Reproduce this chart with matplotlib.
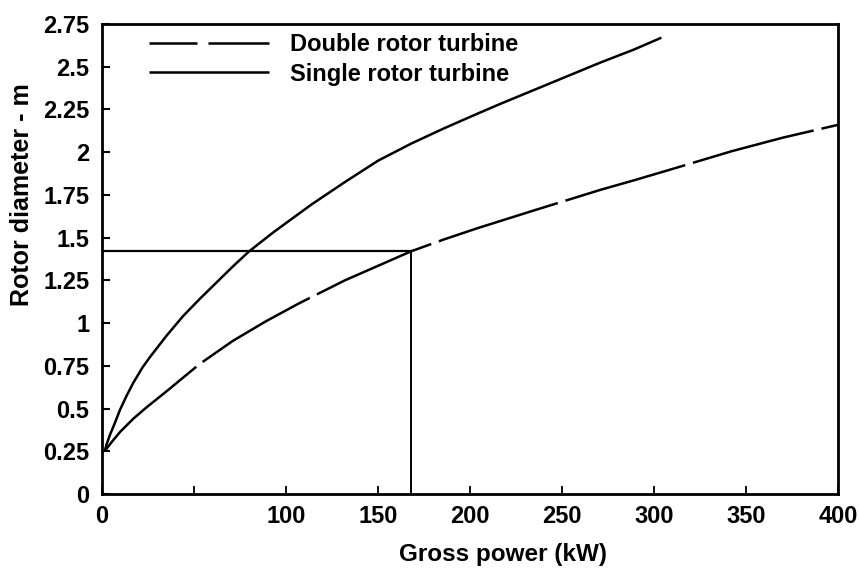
"""
Rotor diameter vs gross power, single and double rotor turbines
"""

import matplotlib
matplotlib.use("Agg")
import matplotlib.pyplot as plt
from matplotlib.lines import Line2D

plt.rcParams["font.family"] = ["Liberation Sans", "DejaVu Sans"]
plt.rcParams["font.weight"] = "bold"

# -----------------------------------------------------------------------------
# Data
# -----------------------------------------------------------------------------
single_power = [1.5, 2.5, 4.3, 7, 9.7, 13.4, 17, 22, 26, 35, 44, 53, 62, 71,
                80, 93, 107, 114, 132, 150, 168, 186, 204, 217, 235, 253, 271,
                289, 304]
single_diameter = [0.25, 0.29, 0.345, 0.415, 0.49, 0.575, 0.65, 0.74, 0.80,
                   0.925, 1.04, 1.14, 1.235, 1.33, 1.42, 1.53, 1.64, 1.695,
                   1.825, 1.95, 2.05, 2.14, 2.225, 2.285, 2.365, 2.445, 2.525,
                   2.60, 2.67]

double_power = [1.5, 5, 10, 17, 24, 35, 44, 53, 71, 89, 107, 132, 150, 168,
                186, 204, 235, 253, 271, 289, 311, 342, 370, 400]
double_diameter = [0.25, 0.30, 0.365, 0.44, 0.505, 0.60, 0.68, 0.76, 0.895,
                   1.01, 1.115, 1.25, 1.335, 1.42, 1.49, 1.555, 1.66, 1.72,
                   1.78, 1.835, 1.905, 2.005, 2.085, 2.16]

# reading example: 168 kW double rotor -> 1.42 m
ref_power = 168
ref_diameter = 1.42

x_ticks = [0, 50, 100, 150, 200, 250, 300, 350, 400]
x_tick_labels = ["0", "", "100", "150", "200", "250", "300", "350", "400"]
y_ticks = [0, 0.25, 0.5, 0.75, 1, 1.25, 1.5, 1.75, 2, 2.25, 2.5, 2.75]
y_tick_labels = ["0", "0.25", "0.5", "0.75", "1", "1.25", "1.5", "1.75", "2",
                 "2.25", "2.5", "2.75"]

# -----------------------------------------------------------------------------
# Figure
# -----------------------------------------------------------------------------
fig = plt.figure(figsize=(8.59, 5.68), dpi=100)
ax = fig.add_axes([0.1187, 0.1303, 0.857, 0.8275])

lw = 1.8
ax.plot(single_power, single_diameter, color="black", lw=lw,
        solid_capstyle="butt", solid_joinstyle="round")
ax.plot(double_power, double_diameter, color="black", lw=lw,
        dashes=(50, 3.2), dash_capstyle="butt", dash_joinstyle="round")

# reference lines
ax.plot([0, ref_power], [ref_diameter, ref_diameter], color="black", lw=1.6)
ax.plot([ref_power, ref_power], [ref_diameter, 0], color="black", lw=1.4)

ax.set_xlim(0, 400)
ax.set_ylim(0, 2.75)

ax.set_xticks(x_ticks)
ax.set_xticklabels(x_tick_labels)
ax.set_yticks(y_ticks)
ax.set_yticklabels(y_tick_labels)
ax.tick_params(axis="x", direction="in", length=6, width=1.3, pad=8,
               labelsize=17)
ax.tick_params(axis="y", direction="in", length=6, width=1.5, pad=9,
               labelsize=17)
for lab in ax.get_xticklabels() + ax.get_yticklabels():
    lab.set_fontweight("bold")
# keep the last label inside the canvas
ax.get_xticklabels()[-1].set_horizontalalignment("center")

for sp in ax.spines.values():
    sp.set_linewidth(2)

ax.set_xlabel("Gross power (kW)", fontsize=17.5, fontweight="bold")
ax.xaxis.set_label_coords(0.545, -0.104)
ax.set_ylabel("Rotor diameter - m", fontsize=18, fontweight="bold")
ax.yaxis.set_label_coords(-0.093, 0.636)

# legend
h_double = Line2D([], [], color="black", lw=lw, dashes=(19.2, 4.4, 60, 4),
                  dash_capstyle="butt")
h_single = Line2D([], [], color="black", lw=lw, solid_capstyle="butt")
ax.legend([h_double, h_single], ["Double rotor turbine", "Single rotor turbine"],
          loc="upper left", bbox_to_anchor=(0.064, 0.98), frameon=False,
          borderpad=0, borderaxespad=0, handlelength=5.1, handletextpad=0.85,
          labelspacing=0.26, prop={"size": 17, "weight": "bold"})

plt.savefig("out.png", dpi=100)
